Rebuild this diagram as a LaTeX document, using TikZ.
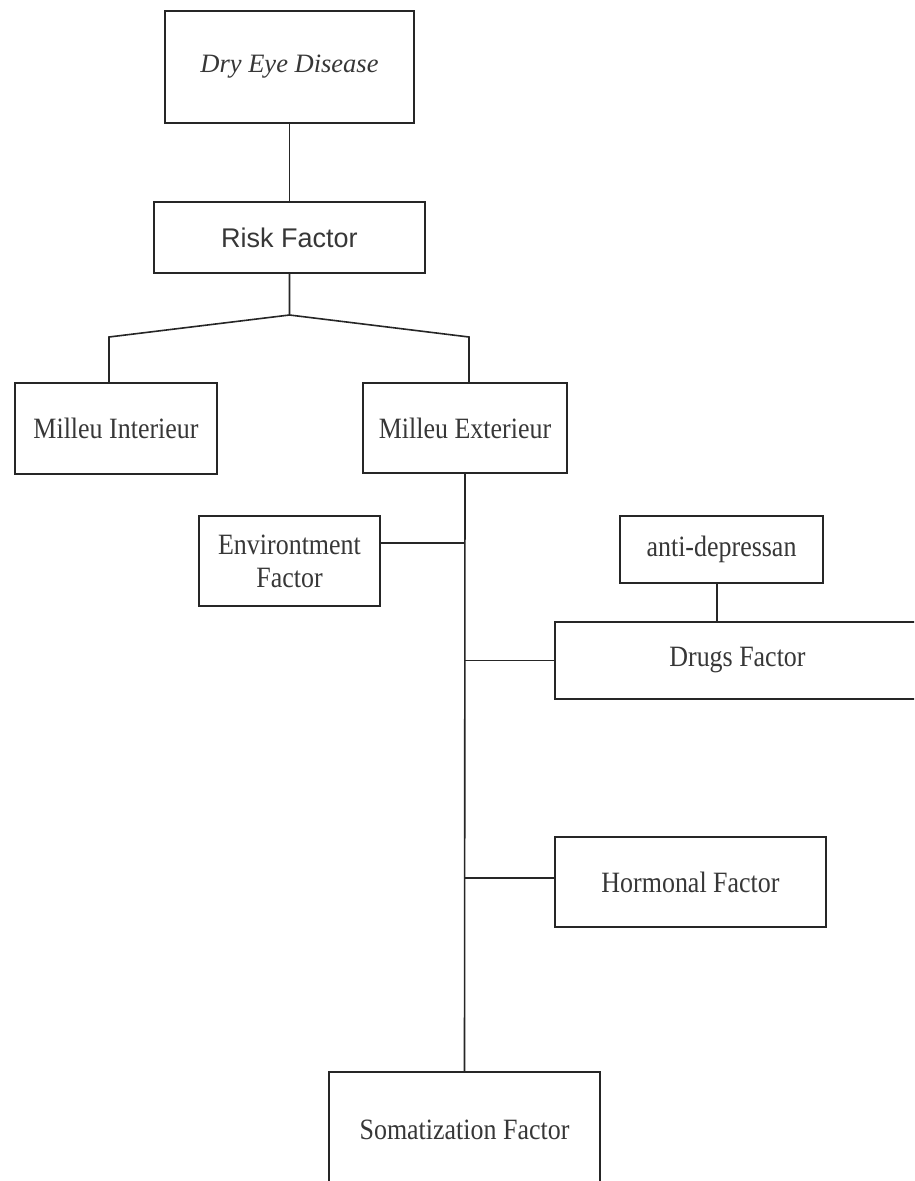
\documentclass[tikz,border=0pt]{standalone}
\usepackage{fontspec}
\setmainfont{Liberation Serif}
\newfontfamily\condf{Liberation Serif}[FakeStretch=0.88]
\newfontfamily\arialf{Liberation Sans}
\definecolor{txt}{RGB}{55,55,55}
\begin{document}
\begin{tikzpicture}[x=1pt,y=-1pt,
  box/.style={draw=black!85,line width=1.6pt,rectangle,inner sep=0pt,align=center,
    text=txt,font=\fontsize{29.5}{33}\condf},
  conn/.style={draw=black!85,line width=1.6pt}]
\clip (0,0) rectangle (914,1181);
\fill[white] (0,0) rectangle (914,1181);
\node[box,minimum width=249pt,minimum height=112pt,font=\fontsize{26.5}{33}\selectfont\rmfamily\itshape] (dry) at (289.5,67) {Dry Eye Disease};
\node[box,minimum width=271pt,minimum height=71pt,font=\fontsize{27}{33}\selectfont\arialf] (risk) at (289.5,237.5) {Risk Factor};
\node[box,minimum width=202pt,minimum height=91pt] (mi) at (116,428.5) {Milleu Interieur};
\node[box,minimum width=204pt,minimum height=90pt] (me) at (465,428) {Milleu Exterieur};
\node[box,minimum width=181pt,minimum height=90pt] (env) at (289.5,561) {Environtment\\Factor};
\node[box,minimum width=203pt,minimum height=67pt] (anti) at (721.5,549.5) {anti-depressan};
\node[box,minimum width=365pt,minimum height=77pt] (drugs) at (737.5,660.5) {Drugs Factor};
\node[box,minimum width=271pt,minimum height=90pt] (horm) at (690.5,882) {Hormonal Factor};
\node[box,minimum width=271pt,minimum height=116pt] (som) at (464.5,1130) {Somatization Factor};
\coordinate (apex) at (289.5,315);
\coordinate (cl) at (109,337);
\coordinate (cr) at (469,337);
\coordinate (ej) at (465,543);
\draw[conn] (dry.south) -- (risk.north);
\draw[conn] (risk.south) -- (apex) -- (cl) -- (cl |- mi.north);
\draw[conn] (apex) -- (cr) -- (cr |- me.north);
\draw[conn] (me.south) -- (som.north);
\draw[conn] (ej -| env.east) -- (ej);
\draw[conn] (drugs.west) -- (drugs.west -| me.south);
\draw[conn] ([xshift=-4.5pt]anti.south) -- ([xshift=-4.5pt]anti.south |- drugs.north);
\draw[conn] ([yshift=4pt]horm.west) -- ([yshift=4pt]horm.west -| me.south);
\end{tikzpicture}
\end{document}
